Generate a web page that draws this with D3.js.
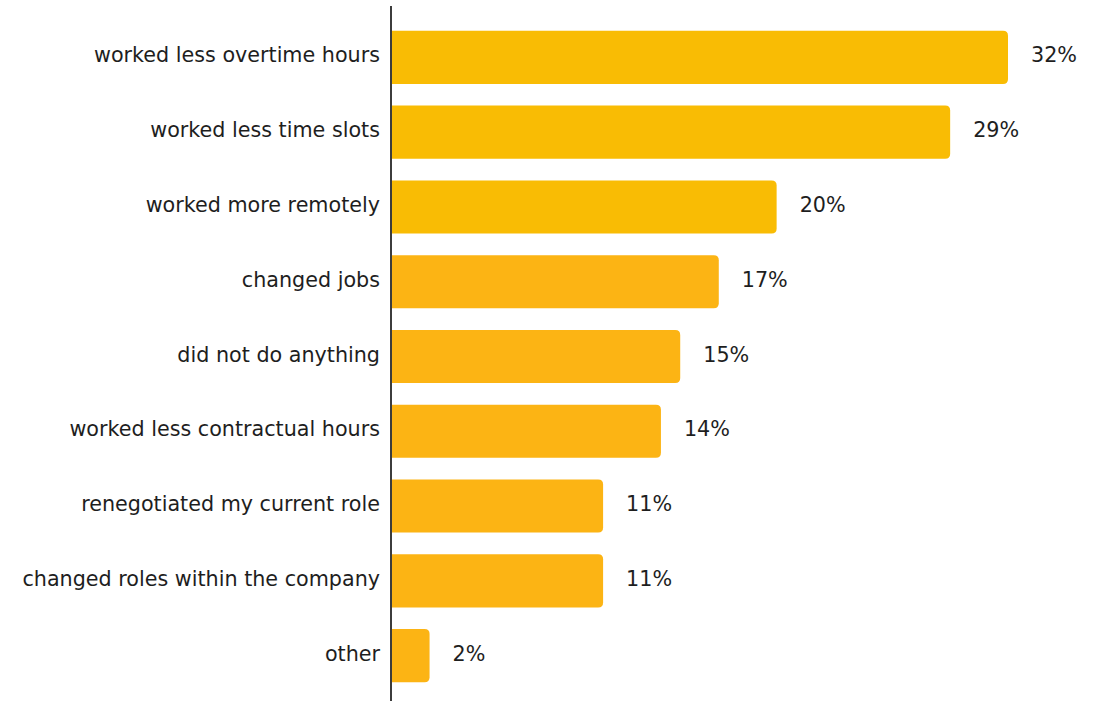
<!DOCTYPE html>
<html>
<head>
<meta charset="utf-8">
<script src="https://cdn.jsdelivr.net/npm/d3@7"></script>
<style>
  html, body { margin: 0; padding: 0; background: #fff; }
  svg { display: block; }
  text { font-family: "DejaVu Sans", Verdana, sans-serif; fill: #1e1e1e; }
</style>
</head>
<body>
<svg id="chart" width="1101" height="701"></svg>
<script>
// Survey responses: what people did, share of respondents (%)
const categories = [
  "worked less overtime hours",
  "worked less time slots",
  "worked more remotely",
  "changed jobs",
  "did not do anything",
  "worked less contractual hours",
  "renegotiated my current role",
  "changed roles within the company",
  "other"
];
const values = [32, 29, 20, 17, 15, 14, 11, 11, 2];
const valueLabels = ["32%", "29%", "20%", "17%", "15%", "14%", "11%", "11%", "2%"];

const W = 1101, H = 701;
const axisX = 391;
const svg = d3.select("#chart");

const x = d3.scaleLinear().domain([0, 32]).range([axisX, 1008]);
const y = d3.scaleBand().domain(categories).range([20, 693])
  .paddingInner(0.29).paddingOuter(0.145);

// top three bars are a brighter yellow, the rest lean orange
const color = i => i < 3 ? "#f9bc04" : "#fcb414";

const r = 5;
function barPath(x0, x1, y0, h) {
  const rr = Math.min(r, (x1 - x0) / 2, h / 2);
  return `M${x0},${y0}H${x1 - rr}Q${x1},${y0} ${x1},${y0 + rr}` +
         `V${y0 + h - rr}Q${x1},${y0 + h} ${x1 - rr},${y0 + h}H${x0}Z`;
}

const rows = categories.map((c, i) => ({ c, v: values[i], lab: valueLabels[i], i }));

svg.append("g").selectAll("path").data(rows).join("path")
  .attr("d", d => barPath(x(0), x(d.v), y(d.c), y.bandwidth()))
  .attr("fill", d => color(d.i));

const fs = 20.7;
const dy = -2;
svg.append("g").selectAll("text").data(rows).join("text")
  .attr("x", axisX - 11)
  .attr("y", d => y(d.c) + y.bandwidth() / 2 + dy)
  .attr("text-anchor", "end")
  .attr("dominant-baseline", "central")
  .style("font-size", fs + "px")
  .text(d => d.c);

svg.append("g").selectAll("text").data(rows).join("text")
  .attr("x", d => x(d.v) + 23)
  .attr("y", d => y(d.c) + y.bandwidth() / 2 + dy)
  .attr("dominant-baseline", "central")
  .style("font-size", fs + "px")
  .text(d => d.lab);

// category axis line
svg.append("line")
  .attr("x1", axisX).attr("x2", axisX)
  .attr("y1", 6).attr("y2", H)
  .attr("stroke", "#3c3c3c").attr("stroke-width", 2);
</script>
</body>
</html>
